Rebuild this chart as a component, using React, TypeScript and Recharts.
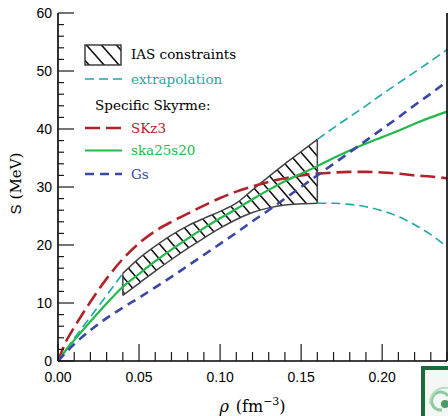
import {
  ComposedChart,
  Line,
  Area,
  XAxis,
  YAxis,
  Legend,
  ReferenceLine,
} from "recharts";

// density grid (fm^-3) shared by every curve
const RHO = [
  0, 0.005, 0.01, 0.02, 0.03, 0.04, 0.05, 0.06, 0.07, 0.08, 0.09, 0.1, 0.11,
  0.12, 0.13, 0.14, 0.15, 0.16, 0.17, 0.18, 0.19, 0.2, 0.21, 0.22, 0.23, 0.24,
];

// Skyrme parametrisations, S in MeV
const SKZ3 = [
  0, 3.4, 5.8, 10.2, 14.2, 17.6, 20.3, 22.4, 24.0, 25.4, 26.8, 28.1, 29.2,
  30.1, 30.9, 31.5, 32.0, 32.3, 32.5, 32.6, 32.6, 32.5, 32.3, 32.0, 31.8, 31.5,
];
const SKA25S20 = [
  0, 1.9, 3.6, 6.8, 9.9, 12.8, 15.0, 17.2, 19.2, 21.1, 22.9, 24.6, 26.2,
  27.9, 29.5, 31.0, 32.3, 33.6, 35.0, 36.3, 37.5, 38.6, 39.7, 40.9, 42.0, 43.0,
];
const GS = [
  0, 1.5, 2.9, 5.3, 7.4, 9.2, 10.9, 12.7, 14.5, 16.4, 18.3, 20.2, 22.1, 24.1,
  26.0, 28.0, 30.0, 32.0, 34.0, 36.0, 38.0, 40.0, 42.0, 44.1, 46.1, 48.2,
];

// IAS band edges (null outside 0.04..0.16)
const _ = null;
const IAS_LOW = [
  _, _, _, _, _, 11.3, 13.4, 15.5, 17.5, 19.4, 21.2, 22.9, 24.4, 25.6, 26.4,
  26.9, 27.1, 27.2, _, _, _, _, _, _, _, _,
];
const IAS_HIGH = [
  _, _, _, _, _, 15.1, 17.7, 19.8, 21.7, 23.3, 24.6, 25.8, 27.2, 29.5, 31.8,
  34.0, 36.1, 38.2, _, _, _, _, _, _, _, _,
];

// extrapolations of the band
const EXT_LOW_RHO = [
  0, 2.0, 3.9, 7.6, 11.3, 15.1, _, _, _, _, _, _, _, _, _, _, _, _, _, _, _,
  _, _, _, _, _,
];
const EXT_UPPER = [
  _, _, _, _, _, _, _, _, _, _, _, _, _, _, _, _, _, 38.2, 40.2, 42.1, 44.0,
  46.0, 47.9, 49.8, 51.7, 53.7,
];
const EXT_LOWER = [
  _, _, _, _, _, _, _, _, _, _, _, _, _, _, _, _, _, 27.2, 27.2, 27.0, 26.6,
  25.9, 24.9, 23.5, 21.8, 19.7,
];

const X_TICKS = [
  0, 0.01, 0.02, 0.03, 0.04, 0.05, 0.06, 0.07, 0.08, 0.09, 0.1, 0.11, 0.12,
  0.13, 0.14, 0.15, 0.16, 0.17, 0.18, 0.19, 0.2, 0.21, 0.22, 0.23, 0.24,
];
const X_LABELS = [0, 0.05, 0.1, 0.15, 0.2];
const Y_TICKS = [
  0, 2, 4, 6, 8, 10, 12, 14, 16, 18, 20, 22, 24, 26, 28, 30, 32, 34, 36, 38,
  40, 42, 44, 46, 48, 50, 52, 54, 56, 58, 60,
];
const Y_LABELS = [0, 10, 20, 30, 40, 50, 60];

const TEAL = "#1fa8a2";
const RED = "#b0232b";
const GREEN = "#22b94a";
const BLUE = "#3a47a6";

const SERIES = [
  { key: "skz3", name: "SKz3", color: RED, dash: "15 6", width: 2.6 },
  { key: "ska", name: "ska25s20", color: GREEN, dash: undefined, width: 2.2 },
  { key: "gs", name: "Gs", color: BLUE, dash: "9 6", width: 2.6 },
];

const rows = RHO.map((rho, i) => ({
  rho,
  skz3: SKZ3[i],
  ska: SKA25S20[i],
  gs: GS[i],
  extLow: EXT_LOW_RHO[i],
  extUp: EXT_UPPER[i],
  extDown: EXT_LOWER[i],
  band: IAS_LOW[i] == null ? null : [IAS_LOW[i], IAS_HIGH[i]],
}));

const first = IAS_LOW.findIndex((v) => v != null);
const last = IAS_LOW.length - 1 - [...IAS_LOW].reverse().findIndex((v) => v != null);

const SANS = "'Liberation Sans', Arial, sans-serif";
const SERIF = "'DejaVu Serif', serif";
const TICK = "#1a1a1a";

const isMajorX = (v: number) => X_LABELS.some((l) => Math.abs(l - v) < 1e-9);
const isMajorY = (v: number) => Y_LABELS.includes(v);

function BottomTick(props: any) {
  const { x, y, payload } = props;
  const major = isMajorX(payload.value);
  return (
    <g>
      <line x1={x} x2={x} y1={y} y2={y - (major ? 17 : 9)} stroke={TICK} strokeWidth={1.2} />
      {major && (
        <text x={x} y={y + 21} textAnchor="middle" fontFamily={SANS} fontSize={14} fill="#000">
          {payload.value.toFixed(2)}
        </text>
      )}
    </g>
  );
}

function TopTick(props: any) {
  const { x, y, payload } = props;
  const major = isMajorX(payload.value);
  return <line x1={x} x2={x} y1={y} y2={y + (major ? 16 : 7)} stroke={TICK} strokeWidth={1.2} />;
}

function LeftTick(props: any) {
  const { x, y, payload } = props;
  const major = isMajorY(payload.value);
  return (
    <g>
      <line x1={x} x2={x + (major ? 16 : 6)} y1={y} y2={y} stroke={TICK} strokeWidth={1.2} />
      {major && (
        <text x={x - 6} y={y + 5} textAnchor="end" fontFamily={SANS} fontSize={14} fill="#000">
          {payload.value}
        </text>
      )}
    </g>
  );
}

function RightTick(props: any) {
  const { x, y, payload } = props;
  const major = isMajorY(payload.value);
  return <line x1={x} x2={x - (major ? 16 : 6)} y1={y} y2={y} stroke={TICK} strokeWidth={1.2} />;
}

function XTitle(props: any) {
  const vb = props.viewBox ?? { x: 58, y: 361, width: 389, height: 55 };
  return (
    <text x={vb.x + vb.width / 2} y={vb.y + 51} textAnchor="middle" fontFamily={SERIF} fontSize={16} fill="#000">
      <tspan fontStyle="italic">ρ</tspan>
      <tspan dx={7}>(fm</tspan>
      <tspan dy={-7} fontSize={11}>−3</tspan>
      <tspan dy={7}>)</tspan>
    </text>
  );
}

function YTitle(props: any) {
  const vb = props.viewBox ?? { x: 0, y: 13, width: 58, height: 348 };
  const cx = vb.x + 21;
  const cy = vb.y + vb.height * 0.49;
  return (
    <text x={cx} y={cy} transform={`rotate(-90 ${cx} ${cy})`} textAnchor="middle" fontFamily={SERIF} fontSize={15} fill="#000">
      <tspan fontFamily={SANS}>S</tspan>
      <tspan dx={5}>(MeV)</tspan>
    </text>
  );
}

function LegendBox() {
  const lineX1 = 5;
  const lineX2 = 42;
  const textX = 51;
  const rowsY = [88, 110.5, 134];
  return (
    <svg width={200} height={150} style={{ display: "block", overflow: "visible" }}>
      <rect x={5} y={5} width={36} height={20} fill="url(#hatchKey)" stroke="#333" strokeWidth={1.4} />
      <text x={textX} y={18.5} fontFamily={SERIF} fontSize={13.5} fill="#000">
        IAS constraints
      </text>
      <line x1={lineX1} x2={lineX2} y1={39} y2={39} stroke={TEAL} strokeWidth={1.6} strokeDasharray="9 5" />
      <text x={textX} y={43.5} fontFamily={SERIF} fontSize={13.5} fill={TEAL}>
        extrapolation
      </text>
      <text x={15} y={70} fontFamily={SERIF} fontSize={13.5} fill="#000">
        Specific Skyrme:
      </text>
      {SERIES.map((s, i) => (
        <g key={s.key}>
          <line
            x1={lineX1}
            x2={lineX2}
            y1={rowsY[i]}
            y2={rowsY[i]}
            stroke={s.color}
            strokeWidth={s.width}
            strokeDasharray={s.dash}
          />
          <text x={textX} y={rowsY[i] + 4.5} fontFamily={SERIF} fontSize={13.5} fill={s.color}>
            {s.name}
          </text>
        </g>
      ))}
    </svg>
  );
}

function Logo() {
  return (
    <svg
      width={27}
      height={50}
      style={{ position: "absolute", left: 421, top: 366 }}
    >
      <rect x={2} y={2} width={30} height={50} fill="#f4f8f4" stroke="#1d6b3c" strokeWidth={4} />
      <path d="M27 30 a9 9 0 1 0 -6 14" fill="none" stroke="#8cc9a0" strokeWidth={3} />
      <path d="M27 22 a15 15 0 0 0 -18 16" fill="none" stroke="#b9dfc4" strokeWidth={2} />
      <circle cx={24} cy={38} r={4} fill="#4d9a68" />
    </svg>
  );
}

export default function App() {
  return (
    <div
      style={{
        position: "absolute",
        left: 0,
        top: 0,
        width: 448,
        height: 416,
        background: "#fff",
        overflow: "hidden",
      }}
    >
      <ComposedChart
        width={448}
        height={416}
        data={rows}
        margin={{ top: 13, right: 0, bottom: 0, left: 0 }}
      >
        <defs>
          {/* band hatching, slightly steeper than 45 degrees */}
          <pattern id="hatch" patternUnits="userSpaceOnUse" width={13} height={15}>
            <path d="M-3,-3.46 L16,18.46 M-3,11.54 L3,18.46 M10,-3.46 L16,3.46" stroke="#111" strokeWidth={1.5} />
          </pattern>
          <pattern id="hatchKey" patternUnits="userSpaceOnUse" x={2} y={0} width={15} height={17}>
            <path d="M-3,-3.4 L18,20.4 M-3,13.6 L3,20.4 M12,-3.4 L18,3.4" stroke="#111" strokeWidth={1.5} />
          </pattern>
        </defs>
        <XAxis
          dataKey="rho"
          type="number"
          domain={[0, 0.24]}
          ticks={X_TICKS}
          interval={0}
          height={55}
          tickSize={0}
          tickMargin={0}
          tick={<BottomTick />}
          tickLine={false}
          axisLine={{ stroke: "#000", strokeWidth: 1.6 }}
          label={<XTitle />}
        />
        <XAxis
          xAxisId="top"
          orientation="top"
          dataKey="rho"
          type="number"
          domain={[0, 0.24]}
          ticks={X_TICKS}
          interval={0}
          height={0}
          tickSize={0}
          tickMargin={0}
          tick={<TopTick />}
          tickLine={false}
          axisLine={{ stroke: "#000", strokeWidth: 1.6 }}
        />
        <YAxis
          type="number"
          domain={[0, 60]}
          ticks={Y_TICKS}
          interval={0}
          width={58}
          tickSize={0}
          tickMargin={0}
          tick={<LeftTick />}
          tickLine={false}
          axisLine={{ stroke: "#000", strokeWidth: 1.6 }}
          label={<YTitle />}
        />
        <YAxis
          yAxisId="right"
          orientation="right"
          type="number"
          domain={[0, 60]}
          ticks={Y_TICKS}
          interval={0}
          width={1}
          tickSize={0}
          tickMargin={0}
          tick={<RightTick />}
          tickLine={false}
          axisLine={{ stroke: "#000", strokeWidth: 1.6 }}
        />
        <Area
          dataKey="band"
          type="monotone"
          fill="url(#hatch)"
          fillOpacity={1}
          stroke="#444"
          strokeWidth={1.5}
          isAnimationActive={false}
          activeDot={false}
        />
        <ReferenceLine
          segment={[
            { x: RHO[first], y: IAS_LOW[first] as number },
            { x: RHO[first], y: IAS_HIGH[first] as number },
          ]}
          stroke="#444"
          strokeWidth={1.5}
        />
        <ReferenceLine
          segment={[
            { x: RHO[last], y: IAS_LOW[last] as number },
            { x: RHO[last], y: IAS_HIGH[last] as number },
          ]}
          stroke="#444"
          strokeWidth={1.5}
        />
        {["extLow", "extUp", "extDown"].map((k) => (
          <Line
            key={k}
            dataKey={k}
            type="monotone"
            stroke={TEAL}
            strokeWidth={1.6}
            strokeDasharray="9 5"
            dot={false}
            activeDot={false}
            connectNulls
            isAnimationActive={false}
          />
        ))}
        {SERIES.map((s) => (
          <Line
            key={s.key}
            dataKey={s.key}
            name={s.name}
            type="monotone"
            stroke={s.color}
            strokeWidth={s.width}
            strokeDasharray={s.dash}
            dot={false}
            activeDot={false}
            isAnimationActive={false}
          />
        ))}
        <Legend
          layout="vertical"
          align="center"
          verticalAlign="middle"
          content={() => <LegendBox />}
          wrapperStyle={{ left: 80, top: 40, width: 200, height: 150 }}
        />
      </ComposedChart>
      <Logo />
    </div>
  );
}
